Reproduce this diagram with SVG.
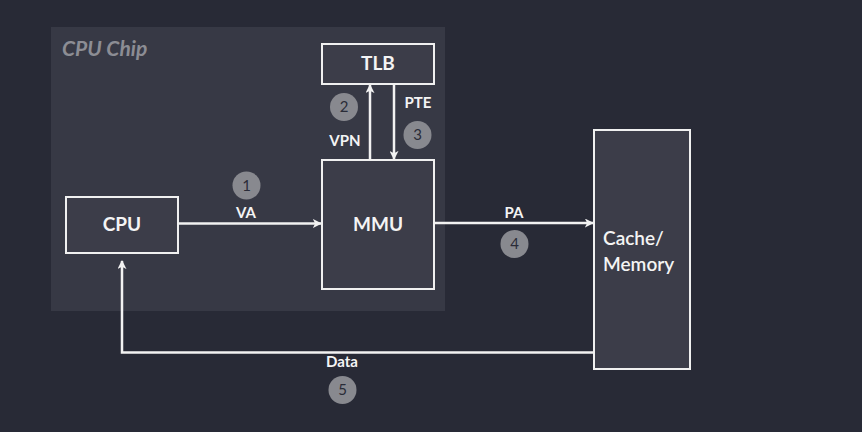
<svg xmlns="http://www.w3.org/2000/svg" width="862" height="432" viewBox="0 0 862 432">
<defs>
<marker id="ah" viewBox="0 0 10 10" refX="9" refY="5" markerWidth="9" markerHeight="9" orient="auto-start-reverse" markerUnits="userSpaceOnUse">
<path d="M0,0 L10,5 L0,10 L2.5,5 Z" fill="#f2f2f2"/>
</marker>
</defs>
<style>
.node{fill:#3c3d49;stroke:#f0f0f0;stroke-width:2}
.nl{font-family:Lato,"Liberation Sans",sans-serif;font-weight:bold;font-size:19px;fill:#f4f4f4;text-anchor:middle}
.el{font-family:Lato,"Liberation Sans",sans-serif;font-weight:bold;font-size:15px;fill:#f4f4f4;text-anchor:middle}
.conn{stroke:#f2f2f2;stroke-width:2.5;fill:none}
.num circle{fill:#88898f}
.num text{font-family:Lato,"Liberation Sans",sans-serif;font-size:15px;fill:#2a2c38;text-anchor:middle}
</style>
<rect width="862" height="432" fill="#282a36"/>
<g id="chip">
<rect x="51" y="27" width="394" height="284" fill="#373945"/>
<text x="62" y="56" font-family="Lato,'Liberation Sans',sans-serif" font-style="italic" font-weight="bold" font-size="21" fill="#8c8d94">CPU Chip</text>
</g>
<g id="cpu"><rect class="node" x="66" y="197" width="112" height="56"/><text class="nl" x="122" y="231">CPU</text></g>
<g id="mmu"><rect class="node" x="322" y="160" width="112" height="129"/><text class="nl" x="378" y="231">MMU</text></g>
<g id="tlb"><rect class="node" x="322" y="44" width="112" height="40"/><text class="nl" x="378" y="70">TLB</text></g>
<g id="memory"><rect class="node" x="594" y="130" width="96" height="239"/>
<text x="603" y="245" font-family="Lato,'Liberation Sans',sans-serif" font-weight="600" font-size="19" fill="#f4f4f4">Cache/</text>
<text x="603" y="271" font-family="Lato,'Liberation Sans',sans-serif" font-weight="600" font-size="19" fill="#f4f4f4">Memory</text>
</g>
<g id="connectors">
<path class="conn" d="M178,223.5 H321" marker-end="url(#ah)"/>
<path class="conn" d="M370,160 V85" marker-end="url(#ah)"/>
<path class="conn" d="M394,84 V159" marker-end="url(#ah)"/>
<path class="conn" d="M434,223 H593" marker-end="url(#ah)"/>
<path class="conn" d="M594,352.5 H122 V261" marker-end="url(#ah)"/>
<text class="el" x="246" y="218">VA</text>
<text class="el" x="345" y="146">VPN</text>
<text class="el" x="418" y="108">PTE</text>
<text class="el" x="514" y="218">PA</text>
<text class="el" x="342" y="367">Data</text>
</g>
<g class="num">
<circle cx="246.5" cy="185.5" r="14"/><text x="246.5" y="190.5">1</text>
<circle cx="344" cy="107" r="14"/><text x="344" y="112">2</text>
<circle cx="417.5" cy="135" r="14"/><text x="417.5" y="140">3</text>
<circle cx="514.5" cy="244" r="14"/><text x="514.5" y="249">4</text>
<circle cx="342.5" cy="390" r="14"/><text x="342.5" y="395">5</text>
</g>
</svg>
